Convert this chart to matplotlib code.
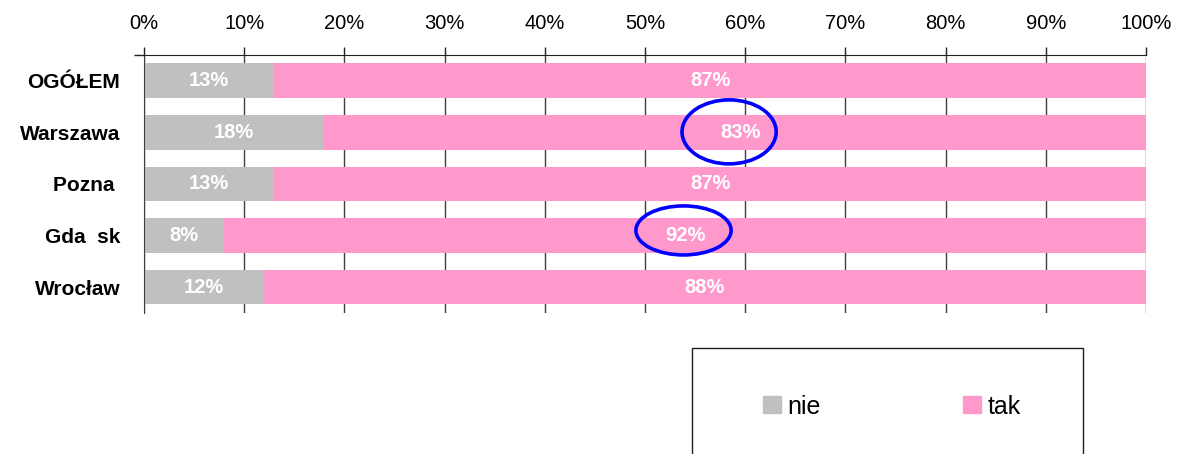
import matplotlib
import matplotlib.pyplot as plt
import numpy as np
from matplotlib.patches import Ellipse, Patch, Rectangle

matplotlib.use("Agg")

plt.rcParams["font.family"] = ["Liberation Sans", "DejaVu Sans"]

# Survey answers per city, percent
categories = ["OGÓŁEM", "Warszawa", "Pozna ", "Gda  sk", "Wrocław"]
nie = [13, 18, 13, 8, 12]
tak = [87, 83, 87, 92, 88]
ticks = np.arange(0, 101, 10)

GRAY = "#c0c0c0"
PINK = "#ff99cc"

fig = plt.figure(figsize=(11.77, 4.54), dpi=100)
ax = fig.add_axes([0.1223, 0.3106, 0.8513, 0.5683])

y = np.arange(len(categories))
ax.barh(y, nie, height=0.67, color=GRAY, zorder=2)
ax.barh(y, tak, left=nie, height=0.67, color=PINK, zorder=2)

# value labels centred in each segment
for i in range(len(categories)):
    ax.text(nie[i] / 2, y[i], f"{nie[i]}%", ha="center", va="center",
            color="white", fontsize=14.5, fontweight="bold", zorder=3)
    ax.text(nie[i] + tak[i] / 2, y[i], f"{tak[i]}%", ha="center",
            va="center", color="white", fontsize=14.5, fontweight="bold",
            zorder=3)

# highlighted values
ax.add_patch(Ellipse((58.4, 0.99), 9.4, 1.24, fill=False, edgecolor="#0000ff",
                     linewidth=2.6, zorder=4, clip_on=False))
ax.add_patch(Ellipse((53.85, 2.90), 9.5, 0.95, fill=False, edgecolor="#0000ff",
                     linewidth=2.6, zorder=4, clip_on=False))

ax.set_xlim(0, 100)
ax.set_ylim(len(categories) - 0.5, -0.5)
ax.set_xticks(ticks)
ax.set_xticklabels([f"{t}%" for t in ticks])
ax.xaxis.tick_top()
ax.tick_params(axis="x", direction="out", length=6, width=1, pad=10,
               labelsize=14.5, color="#202020")
ax.set_yticks(y)
ax.set_yticklabels(categories, fontsize=15, fontweight="bold")
ax.tick_params(axis="y", which="major", length=0, pad=17)
ax.set_yticks([-0.5], minor=True)
ax.tick_params(axis="y", which="minor", length=7, width=1, color="#202020")

ax.grid(axis="x", color="#404040", linewidth=1, zorder=1)
for side in ["right", "bottom"]:
    ax.spines[side].set_visible(False)
ax.spines["top"].set_color("#202020")
ax.spines["left"].set_color("#404040")

# legend box running off the bottom edge
fig.patches.append(Rectangle((692 / 1177, -0.05), 391 / 1177, 0.05 + 106 / 454,
                             transform=fig.transFigure, fill=False,
                             edgecolor="#202020", linewidth=1))
handles = [Patch(color=GRAY, label="nie"), Patch(color=PINK, label="tak")]
fig.legend(handles=handles, loc="center left", bbox_to_anchor=(0.6483, 0.1046),
           ncol=2, frameon=False, fontsize=18, handlelength=0.7,
           handleheight=0.68, handletextpad=0.28, borderpad=0, borderaxespad=0,
           columnspacing=5.7)

plt.savefig("out.png", dpi=100)
plt.close()
